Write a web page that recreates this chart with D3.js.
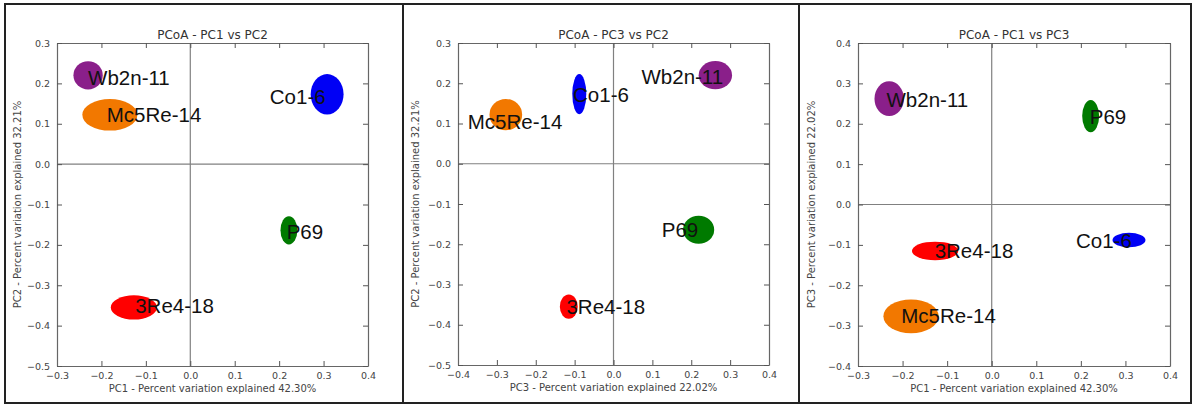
<!DOCTYPE html>
<html lang="en">
  <head>
    <meta charset="UTF-8" />
    <title>PCoA</title>
    <style>
      body { margin: 0; background: #fff; }
      svg { display: block; }
    </style>
  </head>
  <body>
    <svg id="chart" width="1194" height="407"></svg>

    <script src="https://d3js.org/d3.v7.min.js"></script>
    <script>
      // sample coordinates on the first three axes
      const samples = ["Wb2n-11", "Mc5Re-14", "Co1-6", "P69", "3Re4-18"];
      const pc1 = [-0.230, -0.181, 0.308, 0.222, -0.127];
      const pc2 = [0.220, 0.122, 0.173, -0.164, -0.355];
      const pc3 = [0.262, -0.277, -0.088, 0.219, -0.115];
      // ellipse half-widths (spread) on each axis
      const pc1Spread = [0.033, 0.062, 0.037, 0.019, 0.052];
      const pc2Spread = [0.035, 0.039, 0.050, 0.035, 0.030];
      const pc3Spread = [0.043, 0.042, 0.018, 0.040, 0.023];

      const explained = { pc1: "42.30%", pc2: "32.21%", pc3: "22.02%" };

      // label anchors (data units) per panel, same order as samples
      const labelsP1 = [[-0.230, 0.215], [-0.188, 0.122], [0.179, 0.167], [0.217, -0.166], [-0.124, -0.351]];
      const labelsP2 = [[0.072, 0.218], [-0.375, 0.104], [-0.104, 0.172], [0.124, -0.164], [-0.121, -0.355]];
      const labelsP3 = [[-0.236, 0.259], [-0.203, -0.276], [0.189, -0.088], [0.220, 0.217], [-0.128, -0.115]];

      const ticksPc1 = [-0.3, -0.2, -0.1, 0.0, 0.1, 0.2, 0.3, 0.4];
      const ticksPc2 = [-0.5, -0.4, -0.3, -0.2, -0.1, 0.0, 0.1, 0.2, 0.3];
      const ticksPc3x = [-0.4, -0.3, -0.2, -0.1, 0.0, 0.1, 0.2, 0.3, 0.4];
      const ticksPc3y = [-0.4, -0.3, -0.2, -0.1, 0.0, 0.1, 0.2, 0.3, 0.4];

      const colors = ["#8a1f8a", "#f27800", "#0000f5", "#007a00", "#ff0000"];

      const data = { pc1, pc2, pc3 };
      const spread = { pc1: pc1Spread, pc2: pc2Spread, pc3: pc3Spread };

      const panels = [
        { xk: "pc1", yk: "pc2", xt: ticksPc1, yt: ticksPc2, labels: labelsP1,
          box: [5, 403], plot: { l: 57, r: 368, t: 43, b: 366 } },
        { xk: "pc3", yk: "pc2", xt: ticksPc3x, yt: ticksPc2, labels: labelsP2,
          box: [403, 799], plot: { l: 458, r: 769, t: 43, b: 365 } },
        { xk: "pc1", yk: "pc3", xt: ticksPc1, yt: ticksPc3y, labels: labelsP3,
          box: [799, 1191], plot: { l: 858, r: 1170, t: 43, b: 366 } },
      ];

      const svg = d3.select("#chart");
      const fmt = d3.format(".1f");

      panels.forEach((p) => {
        const x = d3.scaleLinear().domain(d3.extent(p.xt)).range([p.plot.l, p.plot.r]);
        const y = d3.scaleLinear().domain(d3.extent(p.yt)).range([p.plot.b, p.plot.t]);
        const g = svg.append("g");

        // zero lines
        g.append("line")
          .attr("x1", x(0)).attr("x2", x(0))
          .attr("y1", p.plot.t).attr("y2", p.plot.b)
          .attr("stroke", "#808080").attr("stroke-width", 1.2);
        g.append("line")
          .attr("x1", p.plot.l).attr("x2", p.plot.r)
          .attr("y1", y(0)).attr("y2", y(0))
          .attr("stroke", "#808080").attr("stroke-width", 1.2);

        // axes (ticks pointing inward on all four sides)
        const styleAxis = (sel) => {
          sel.select(".domain").attr("stroke", "#666").attr("stroke-width", 1.2);
          sel.selectAll(".tick line").attr("stroke", "#555");
          sel.selectAll("text")
            .attr("fill", "#444")
            .attr("font-family", "DejaVu Sans")
            .attr("font-size", 9.5);
        };
        g.append("g")
          .attr("transform", `translate(0,${p.plot.b})`)
          .call(d3.axisBottom(x).tickValues(p.xt).tickFormat(fmt).tickSizeInner(-5).tickSizeOuter(0).tickPadding(6))
          .call(styleAxis);
        g.append("g")
          .attr("transform", `translate(0,${p.plot.t})`)
          .call(d3.axisTop(x).tickValues(p.xt).tickFormat("").tickSizeInner(-5).tickSizeOuter(0))
          .call(styleAxis);
        g.append("g")
          .attr("transform", `translate(${p.plot.l},0)`)
          .call(d3.axisLeft(y).tickValues(p.yt).tickFormat(fmt).tickSizeInner(-5).tickSizeOuter(0).tickPadding(7))
          .call(styleAxis);
        g.append("g")
          .attr("transform", `translate(${p.plot.r},0)`)
          .call(d3.axisRight(y).tickValues(p.yt).tickFormat("").tickSizeInner(-5).tickSizeOuter(0))
          .call(styleAxis);

        // ellipses
        g.selectAll("ellipse")
          .data(samples)
          .join("ellipse")
          .attr("cx", (d, i) => x(data[p.xk][i]))
          .attr("cy", (d, i) => y(data[p.yk][i]))
          .attr("rx", (d, i) => Math.abs(x(spread[p.xk][i]) - x(0)))
          .attr("ry", (d, i) => Math.abs(y(spread[p.yk][i]) - y(0)))
          .attr("fill", (d, i) => colors[i]);

        // sample labels
        g.selectAll("text.lbl")
          .data(samples)
          .join("text")
          .attr("class", "lbl")
          .attr("x", (d, i) => x(p.labels[i][0]))
          .attr("y", (d, i) => y(p.labels[i][1]))
          .attr("dominant-baseline", "central")
          .attr("font-family", "Liberation Sans, Arial, sans-serif")
          .attr("font-size", 20.5)
          .attr("fill", "#111")
          .text((d) => d);

        // title and axis labels
        const cx = (p.plot.l + p.plot.r) / 2;
        const cy = (p.plot.t + p.plot.b) / 2;
        const pcName = (k) => k.toUpperCase();
        g.append("text")
          .attr("x", cx).attr("y", 38.5)
          .attr("text-anchor", "middle")
          .attr("font-family", "DejaVu Sans").attr("font-size", 12)
          .attr("fill", "#333")
          .text(`PCoA - ${pcName(p.xk)} vs ${pcName(p.yk)}`);
        g.append("text")
          .attr("x", cx).attr("y", p.plot.b + 26)
          .attr("text-anchor", "middle")
          .attr("font-family", "DejaVu Sans").attr("font-size", 10)
          .attr("fill", "#444")
          .text(`${pcName(p.xk)} - Percent variation explained ${explained[p.xk]}`);
        g.append("text")
          .attr("transform", `translate(${p.box[0] + 16},${cy}) rotate(-90)`)
          .attr("text-anchor", "middle")
          .attr("font-family", "DejaVu Sans").attr("font-size", 10)
          .attr("fill", "#444")
          .text(`${pcName(p.yk)} - Percent variation explained ${explained[p.yk]}`);

        // panel frame
        svg.append("rect")
          .attr("x", p.box[0]).attr("y", 4)
          .attr("width", p.box[1] - p.box[0]).attr("height", 399)
          .attr("fill", "none")
          .attr("stroke", "#222").attr("stroke-width", 2);
      });
    </script>
  </body>
</html>
